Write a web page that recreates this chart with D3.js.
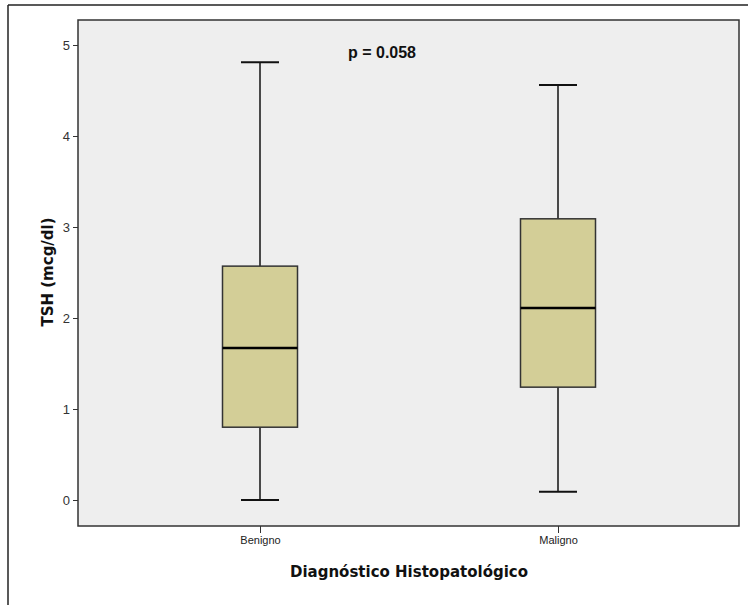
<!DOCTYPE html>
<html><head><meta charset="utf-8">
<script src="https://cdn.jsdelivr.net/npm/d3@7"></script>
<style>body{margin:0;background:#fff}svg{display:block}</style>
</head><body>
<svg id="c" width="748" height="605"></svg>
<script>
const categories = ["Benigno", "Maligno"];
const whiskerLow = [0.0, 0.09];
const q1 = [0.80, 1.24];
const median = [1.67, 2.11];
const q3 = [2.57, 3.09];
const whiskerHigh = [4.81, 4.56];
const yTicks = [0, 1, 2, 3, 4, 5];
const pText = "p = 0.058";
const yTitle = "TSH (mcg/dl)";
const xTitle = "Diagnóstico Histopatológico";

const svg = d3.select("#c");
const plot = {left: 78, top: 20, right: 739, bottom: 526};

// outer frame (top & left visible)
svg.append("line").attr("x1", 8).attr("x2", 748).attr("y1", 5).attr("y2", 5).attr("stroke", "#222").attr("stroke-width", 1.5);
svg.append("line").attr("x1", 8).attr("x2", 8).attr("y1", 5).attr("y2", 605).attr("stroke", "#222").attr("stroke-width", 1.5);

svg.append("rect").attr("x", plot.left).attr("y", plot.top)
  .attr("width", plot.right - plot.left).attr("height", plot.bottom - plot.top)
  .attr("fill", "#eeeeee").attr("stroke", "#333").attr("stroke-width", 1.5);

const y = d3.scaleLinear().domain([0, 5]).range([500, 45]);
const x = d3.scalePoint().domain(categories).range([260, 558]);

const yAxis = svg.append("g").attr("transform", `translate(${plot.left},0)`)
  .call(d3.axisLeft(y).tickValues(yTicks).tickSize(5).tickPadding(3).tickFormat(d3.format("d")));
yAxis.select(".domain").remove();
yAxis.selectAll("line").attr("stroke", "#333");
yAxis.selectAll("text").attr("font-family", "Liberation Sans, Arial, sans-serif").attr("font-size", 13).attr("fill", "#333");

const xAxis = svg.append("g").attr("transform", `translate(0,${plot.bottom})`)
  .call(d3.axisBottom(x).tickSize(7).tickPadding(3));
xAxis.select(".domain").remove();
xAxis.selectAll("line").attr("stroke", "#333");
xAxis.selectAll("text").attr("font-family", "Liberation Sans, Arial, sans-serif").attr("font-size", 11).attr("fill", "#222");

const boxW = 75, capW = 38;
categories.forEach((c, i) => {
  const cx = x(c);
  const g = svg.append("g");
  g.append("line").attr("x1", cx).attr("x2", cx).attr("y1", y(whiskerHigh[i])).attr("y2", y(q3[i])).attr("stroke", "#111").attr("stroke-width", 1.5);
  g.append("line").attr("x1", cx).attr("x2", cx).attr("y1", y(q1[i])).attr("y2", y(whiskerLow[i])).attr("stroke", "#111").attr("stroke-width", 1.5);
  g.append("line").attr("x1", cx - capW/2).attr("x2", cx + capW/2).attr("y1", y(whiskerHigh[i])).attr("y2", y(whiskerHigh[i])).attr("stroke", "#111").attr("stroke-width", 2);
  g.append("line").attr("x1", cx - capW/2).attr("x2", cx + capW/2).attr("y1", y(whiskerLow[i])).attr("y2", y(whiskerLow[i])).attr("stroke", "#111").attr("stroke-width", 2);
  g.append("rect").attr("x", cx - boxW/2).attr("y", y(q3[i])).attr("width", boxW).attr("height", y(q1[i]) - y(q3[i]))
    .attr("fill", "#d3ce97").attr("stroke", "#333").attr("stroke-width", 1.5);
  g.append("line").attr("x1", cx - boxW/2).attr("x2", cx + boxW/2).attr("y1", y(median[i])).attr("y2", y(median[i])).attr("stroke", "#000").attr("stroke-width", 2.5);
});

svg.append("text").attr("x", 382).attr("y", 58).attr("text-anchor", "middle")
  .attr("font-family", "Liberation Sans, Arial, sans-serif").attr("font-weight", "bold").attr("font-size", 16).attr("fill", "#111").text(pText);

svg.append("text").attr("transform", "translate(53,272) rotate(-90)").attr("text-anchor", "middle")
  .attr("font-family", "DejaVu Sans, sans-serif").attr("font-weight", "bold").attr("font-size", 15).attr("fill", "#111").text(yTitle);

svg.append("text").attr("x", 409).attr("y", 577).attr("text-anchor", "middle")
  .attr("font-family", "DejaVu Sans, sans-serif").attr("font-weight", "bold").attr("font-size", 15).attr("fill", "#111").text(xTitle);
</script>
</body></html>
